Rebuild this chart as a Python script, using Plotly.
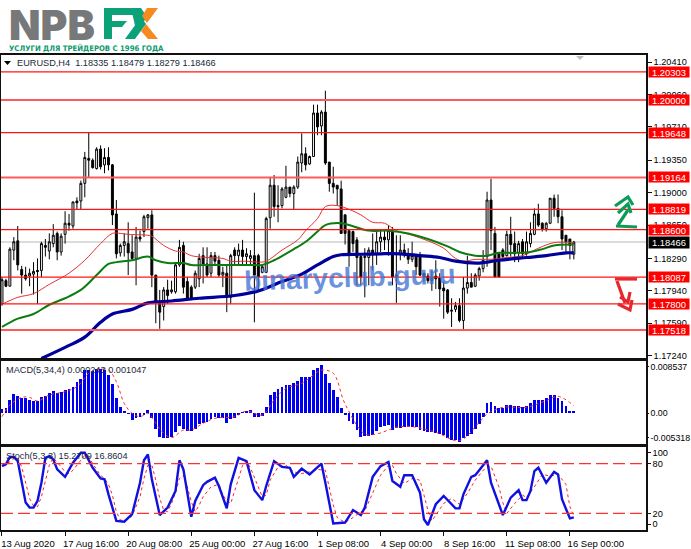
import plotly.graph_objects as go

W, H = 691, 549
def px(x): return x / W
def py(y): return 1 - y / H

# ---- prices, in units of 0.0001 ----
open_pips = [11780,11805,11799,11838,11848,11817,11811,11810,11812,11816,
 11816,11843,11837,11845,11856,11836,11855,11867,11864,11891,
 11891,11910,11937,11935,11926,11947,11930,11938,11930,11877,
 11835,11843,11845,11836,11829,11852,11858,11873,
 11876,11811,11782,11777,11795,11793,11793,11822,11843,11804,11798,11798,
 11807,11832,11823,11813,11832,11827,11811,11813,11787,11838,
 11832,11838,11831,11829,11832,11832,11814,11814,11873,11908,
 11886,11886,11895,11906,11899,11906,11932,11942,11931,11939,
 11986,11972,11987,11933,11910,11908,11904,11876,11859,11858,
 11849,11831,11830,11830,11838,11834,11847,11852,11849,11859,
 11811,11834,11838,11834,11828,11832,11831,11813,11810,11805,
 11810,11808,11797,11795,11772,11774,11778,11762,11797,11803,
 11799,11810,11818,11831,11892,11856,11834,11838,11832,11855,
 11845,11835,11847,11834,11845,11855,11877,11867,11861,11867,
 11894,11883,11874,11854,11850,11833.5]
high_pips = [11809,11807,11841,11852,11864,11821,11820,11818,11825,11829,
 11847,11850,11856,11866,11858,11856,11880,11877,11890,11895,
 11913,11944,11965,11937,11949,11951,11948,11949,11931,11892,
 11845,11856,11868,11854,11863,11859,11876,11877,
 11881,11811,11795,11798,11806,11805,11823,11849,11847,11809,11800,11816,
 11834,11841,11841,11836,11836,11832,11820,11823,11834,11841,
 11845,11849,11840,11838,11900,11834,11823,11874,11917,11919,
 11908,11906,11929,11906,11908,11939,11964,11949,11940,11995,
 11995,11989,12010,11933,11928,11908,11913,11877,11859,11859,
 11852,11834,11840,11841,11856,11858,11859,11859,11865,11863,
 11854,11854,11845,11840,11847,11834,11836,11813,11813,11816,
 11827,11813,11804,11796,11786,11782,11786,11809,11832,11813,
 11813,11820,11838,11901,11915,11863,11836,11840,11859,11874,
 11858,11848,11850,11858,11868,11883,11888,11868,11868,11894,
 11898,11898,11881,11854,11850,11847.9]
low_pips = [11778,11798,11799,11827,11816,11791,11805,11799,11790,11780,
 11809,11831,11828,11841,11827,11832,11845,11859,11861,11882,
 11882,11895,11916,11926,11925,11925,11921,11924,11865,11829,
 11831,11831,11811,11827,11800,11847,11852,11861,
 11798,11759,11753,11762,11780,11791,11791,11820,11791,11784,11784,11796,
 11798,11802,11809,11809,11822,11809,11798,11771,11780,11823,
 11823,11823,11822,11823,11760,11795,11813,11813,11861,11874,
 11868,11883,11894,11895,11882,11904,11922,11924,11930,11939,
 11962,11962,11930,11901,11899,11886,11856,11844,11820,11836,
 11800,11800,11787,11800,11816,11822,11836,11838,11832,11800,
 11781,11827,11830,11823,11825,11811,11810,11804,11802,11794,
 11796,11777,11764,11769,11755,11771,11760,11751,11791,11798,
 11798,11805,11814,11820,11838,11809,11809,11827,11831,11831,
 11825,11825,11829,11832,11841,11854,11863,11858,11858,11866,
 11874,11867,11838,11836,11828,11827.9]
close_pips = [11806,11799,11839,11847,11822,11811,11807,11813,11815,11815,
 11845,11841,11847,11854,11836,11853,11867,11865,11890,11889,
 11910,11938,11935,11927,11947,11928,11938,11930,11876,11834,
 11843,11847,11835,11829,11852,11850,11874,11876,
 11811,11782,11771,11795,11789,11795,11822,11841,11798,11786,11786,11813,
 11829,11823,11811,11832,11826,11811,11814,11787,11832,11832,
 11838,11831,11834,11832,11811,11809,11820,11872,11908,11885,
 11885,11904,11906,11899,11906,11933,11942,11930,11939,11986,
 11971,11987,11932,11910,11906,11904,11856,11856,11834,11845,
 11830,11809,11831,11838,11834,11847,11852,11849,11859,11809,
 11809,11838,11834,11828,11832,11820,11811,11809,11805,11808,
 11807,11796,11794,11771,11773,11778,11762,11797,11803,11798,
 11811,11818,11827,11892,11859,11809,11809,11831,11855,11844,
 11834,11845,11834,11847,11856,11877,11865,11861,11867,11894,
 11883,11874,11850,11847,11843,11846.6]

ma_red_i = [0,4,8,12,17,21,25,28,30,32,37,38,41,44,46,48,52,56,58,62,65,67,71,75,77,80,82,85,88,91,94,97,100,104,108,112,115,117,120,124,128,132,136,140,145]
ma_red = [11779.5,11787,11791,11801,11813,11827,11845,11856,11856,11855,11854,11853,11843,11837,11836,11832,11830,11829,11826,11826,11825,11826,11838,11849,11859,11872,11885,11886,11882,11876,11868,11867,11859,11854,11848,11840,11829,11826,11828,11828,11830,11832,11840,11846,11846]
ma_green_i = [0,4,8,12,16,20,24,27,29,33,37,39,42,46,48,53,58,63,66,69,74,77,80,82,86,88,93,98,103,108,113,116,120,123,126,130,134,137,140,145]
ma_green = [11755,11764,11769,11779,11786,11795,11811,11823,11825,11827,11831,11827,11824,11824,11822,11822,11822,11822,11822,11827,11839,11847,11858,11865,11867,11865,11859,11859,11856,11850,11842,11836,11832,11832,11835,11835,11836,11839,11843,11844]
ma_blue_i = [10,16,21,25,28,33,37,43,50,59,65,71,76,80,84,86,91,96,101,106,111,115,121,126,133,138,143,145]
ma_blue = [11721,11733,11744,11760,11769,11774,11781,11783,11786,11789,11794,11804,11812,11822,11831,11833,11833.5,11834,11834,11832,11830,11826,11824,11827,11830,11832,11835,11835]

level_prices = [1.20303,1.20000,1.19648,1.19164,1.18819,1.18600,1.18087,1.17800,1.17518]
level_thick = [False,True,False,True,False,False,False,False,True]
last_price = 1.18466

# ---- MACD histogram and signal, in units of 0.00001 ----
macd_hist = [61,89,217,311,289,245,245,211,206,206,272,289,334,367,339,356,384,395,439,512,567,717,717,701,734,734,723,634,478,245,106,22,-11,-117,-89,-61,-17,50,-89,-267,-400,-411,-411,-395,-311,-217,-267,-300,-300,-267,-189,-172,-145,-100,-61,-89,-89,-172,-100,-78,-22,11,22,44,-61,-61,-50,106,300,356,395,428,467,467,495,534,595,595,606,717,745,801,645,495,384,272,89,-17,
 -128,-183,-278,-395,-389,-378,-367,-295,-239,-211,-200,-278,-256,-250,-239,-228,-228,-239,-278,-306,-311,-322,-334,-350,-367,-423,-445,-445,-478,-411,-378,-350,-267,-183,-72,161,189,111,83,83,133,139,111,122,95,122,161,222,217,217,245,300,306,250,206,122,39,24]
macd_sig_i = [0,2,5,7,9,12,16,19,22,24,27,29,31,33,35,37,39,41,43,46,48,51,54,59,62,66,69,72,76,79,81,84,87,92,95,100,104,110,116,121,123,127,133,138,141,145]
macd_sig = [-61,133,261,261,200,300,356,439,662,728,717,523,161,-6,-61,-6,-172,-339,-411,-284,-284,-172,-89,-61,33,-33,217,411,495,634,717,662,150,-350,-350,-239,-228,-322,-461,-156,-17,95,95,206,278,122]

# ---- Stochastic ----
stoch_i = [0,1,2,3,4,5,6,7,8,9,10,11,12,13,14,16,18,20,21,23,25,26,27,29,31,33,35,36,37,38,40,42,44,45,46,48,49,51,52,54,55,57,58,60,62,64,66,67,69,71,73,74,76,78,81,82,84,87,89,91,92,94,96,98,99,101,102,104,106,107,108,110,112,115,116,117,119,120,123,124,127,129,131,132,133,134,135,136,138,140,141,142,144,145]
stoch_main = [77,79,88,88,83,57,33,27,27,35,57,87,89,85,73,64,81,93,93,75,62,61,43,11,10,19,57,84,91,61,18,27,47,84,73,16,35,54,58,63,53,26,55,87,83,48,36,53,83,76,75,64,74,67,80,57,8,9,24,18,27,64,77,82,59,52,66,66,45,13,6,31,41,26,26,43,64,66,84,57,18,39,48,36,36,47,71,75,57,70,67,37,14,15.27]
stoch_sig_i = [0,2,3,4,5,6,7,8,9,10,11,12,13,14,15,16,17,18,20,21,22,23,25,26,27,28,29,30,31,32,33,35,36,37,38,39,40,41,42,43,44,45,46,47,48,49,50,51,53,55,56,57,58,59,60,61,62,63,65,66,67,68,70,72,74,76,78,80,82,83,84,85,87,89,91,92,94,96,98,99,100,102,104,106,107,108,109,110,112,114,116,118,120,122,124,126,127,128,130,132,133,135,137,139,141,143,144,145]
stoch_sig = [78,82,86,87,76,58,38,29,28,40,60,78,87,82,76,70,68,72,85,90,88,80,66,62,55,42,22,12,11,13,17,40,62,78,78,60,38,24,22,32,45,62,66,52,34,22,30,40,52,55,42,36,32,46,62,78,83,75,52,40,42,60,76,78,70,68,70,73,72,50,30,15,9,15,22,23,45,66,78,78,68,56,62,60,42,24,11,18,32,38,31,44,60,72,77,52,33,20,32,42,39,52,67,65,67,55,28,16.86]
stoch_levels = [80, 20]

x_tick_i = [0,16,32,48,64,80,96,112,128,144]
x_tick_text = ["13 Aug 2020","17 Aug 16:00","20 Aug 08:00","25 Aug 00:00","27 Aug 16:00",
               "1 Sep 08:00","4 Sep 00:00","8 Sep 16:00","11 Sep 08:00","16 Sep 00:00"]
price_ticks = [1.20410,1.20060,1.19710,1.19350,1.19000,1.18650,1.18290,1.17940,1.17590,1.17240]
xi = list(range(len(close_pips)))
x_range = [-0.25, 163.3]

FONT = "Liberation Sans"
fig = go.Figure()

fig.add_trace(go.Candlestick(
    x=xi, open=[v/1e4 for v in open_pips], high=[v/1e4 for v in high_pips],
    low=[v/1e4 for v in low_pips], close=[v/1e4 for v in close_pips],
    increasing=dict(line=dict(color="#000000", width=1), fillcolor="#ffffff"),
    decreasing=dict(line=dict(color="#000000", width=1), fillcolor="#000000"),
    xaxis="x", yaxis="y", showlegend=False))
fig.add_trace(go.Scatter(x=ma_red_i, y=[v/1e4 for v in ma_red], mode="lines",
    line=dict(color="#e83030", width=1, shape="spline"), xaxis="x", yaxis="y", showlegend=False))
fig.add_trace(go.Scatter(x=ma_green_i, y=[v/1e4 for v in ma_green], mode="lines",
    line=dict(color="#0c7c10", width=2, shape="spline"), xaxis="x", yaxis="y", showlegend=False))
fig.add_trace(go.Scatter(x=ma_blue_i, y=[v/1e4 for v in ma_blue], mode="lines",
    line=dict(color="#00009a", width=3.2, shape="spline"), xaxis="x", yaxis="y", showlegend=False))

fig.add_trace(go.Bar(x=xi, y=[v/1e5 for v in macd_hist], width=0.72,
    marker=dict(color="#0000f0", line_width=0), xaxis="x2", yaxis="y2", showlegend=False))
fig.add_trace(go.Scatter(x=macd_sig_i, y=[v/1e5 for v in macd_sig], mode="lines",
    line=dict(color="#ff2a2a", width=1, dash="dot", shape="spline"), xaxis="x2", yaxis="y2", showlegend=False))

fig.add_trace(go.Scatter(x=stoch_sig_i, y=stoch_sig, mode="lines",
    line=dict(color="#ff2020", width=1, dash="dot"), xaxis="x3", yaxis="y3", showlegend=False))
fig.add_trace(go.Scatter(x=stoch_i, y=stoch_main, mode="lines",
    line=dict(color="#1010e0", width=2.4), xaxis="x3", yaxis="y3", showlegend=False))

shapes, annos = [], []

# last price line (behind the candles), levels
shapes.append(dict(type="line", xref="x domain", yref="y", x0=0, x1=1, y0=last_price, y1=last_price,
                   line=dict(color="#cfcfcf", width=1.5), layer="below"))
for p, thick in zip(level_prices, level_thick):
    shapes.append(dict(type="line", xref="x domain", yref="y", x0=0, x1=1, y0=p, y1=p,
                       line=dict(color="#ff5a5a" if thick else "#ff1414", width=2 if thick else 1.2)))
    annos.append(dict(xref="paper", yref="y", x=px(648), y=p, xanchor="left", yanchor="middle",
                      text=f"{p:.5f}", showarrow=False, width=40, height=10, bgcolor="#ff0000",
                      align="center", valign="middle", borderpad=0,
                      font=dict(family=FONT, size=9.4, color="#ffffff")))
annos.append(dict(xref="paper", yref="y", x=px(648), y=last_price, xanchor="left", yanchor="middle",
                  text=f"{last_price:.5f}", showarrow=False, width=40, height=11, bgcolor="#000000",
                  align="center", valign="middle", borderpad=0,
                  font=dict(family=FONT, size=9.4, color="#ffffff")))
for lv in stoch_levels:
    shapes.append(dict(type="line", xref="x3 domain", yref="y3", x0=0, x1=1, y0=lv, y1=lv,
                       line=dict(color="#ff3030", width=1.4, dash="12px,5px")))

def txt(x, y, s, size, color="#000000", family=FONT, **kw):
    annos.append(dict(xref="paper", yref="paper", x=px(x), y=py(y), xanchor="left", yanchor="middle",
                      text=s, showarrow=False, borderpad=0, font=dict(family=family, size=size, color=color), **kw))

txt(16, 63.5, "EURUSD,H4&nbsp;&nbsp;1.18335 1.18479 1.18279 1.18466", 9.2, "#1a2a3a")
txt(5, 370, "MACD(5,34,4) 0.000243 0.001047", 9.2, "#1a2a3a")
txt(5, 456, "Stoch(5,3,3) 15.2709 16.8604", 9.2, "#1a2a3a")

annos.append(dict(xref="paper", yref="paper", x=px(350), y=py(277), text="binaryclub.guru", showarrow=False,
                  textangle=-2, xanchor="center", yanchor="middle",
                  font=dict(family="Liberation Sans", size=28, color="rgba(68,116,214,0.78)", weight="bold")))

# logo
annos.append(dict(xref="paper", yref="paper", x=px(7), y=py(25), xanchor="left", yanchor="middle",
                  text="NPB", showarrow=False,
                  font=dict(family="Inter", size=41, color="#76787a", weight=900)))
txt(8, 48, "УСЛУГИ ДЛЯ ТРЕЙДЕРОВ С 1996 ГОДА", 7.7, "#0b9a6c", family="DejaVu Sans Condensed, Liberation Sans")
annos[-1]["font"]["weight"] = "bold"

def poly(points, color):
    d = "M " + " L ".join(f"{px(a):.5f},{py(b):.5f}" for a, b in points) + " Z"
    shapes.append(dict(type="path", xref="paper", yref="paper", path=d, fillcolor=color, line_width=0))
def stroke(points, color, w=3.2):
    d = "M " + " L ".join(f"{px(a):.5f},{py(b):.5f}" for a, b in points)
    shapes.append(dict(type="path", xref="paper", yref="paper", path=d, line=dict(color=color, width=w)))

G, O = "#0ba27a", "#f58a1f"
poly([(104,8),(112,8),(112,39),(104,39)], G)
poly([(104,8),(131,8),(136,15),(104,15)], G)
poly([(104,21),(127,21),(122,27),(104,27)], G)
poly([(131,8),(141,8),(147,17),(142,24),(136,30)], G)
poly([(125,39),(135,39),(146,24),(141,17)], G)
poly([(147,8),(158,8),(147,23),(142,16)], O)
poly([(146,24),(158,39),(148,39),(141,31)], O)

# hand-drawn trade arrows
stroke([(616,226),(637,227)], "#0d9c58")
stroke([(628,210),(618,225)], "#0d9c58")
stroke([(618,213),(628,204),(631,213)], "#0d9c58")
stroke([(615,206),(628,197),(633,205)], "#0d9c58")
stroke([(615,279),(637,279)], "#e6272d")
stroke([(617,281),(625,303)], "#e6272d")
stroke([(620,297),(628,302),(630,292)], "#e6272d")
stroke([(618,304),(630,310),(632,300)], "#e6272d")
# chart markers
poly([(4,61),(11,61),(7.5,65)], "#000000")
poly([(576,56),(584,56),(580,60)], "#bdbdbd")

axis_common = dict(showgrid=False, zeroline=False, showline=True, mirror=True,
                   linecolor="#111111", linewidth=1.5)
tickfont = dict(family=FONT, size=9.2, color="#000000")
dom_x = [px(1), px(646)]

fig.update_layout(
    width=W, height=H, margin=dict(l=0, r=0, t=0, b=0, autoexpand=False), autosize=False,
    paper_bgcolor="#ffffff", plot_bgcolor="#ffffff", showlegend=False, bargap=0,
    shapes=shapes, annotations=annos, hovermode=False,
    xaxis=dict(domain=dom_x, range=x_range, anchor="y", rangeslider=dict(visible=False),
               showticklabels=False, ticks="", **axis_common),
    xaxis2=dict(domain=dom_x, range=x_range, anchor="y2", showticklabels=False, ticks="", **axis_common),
    xaxis3=dict(domain=dom_x, range=x_range, anchor="y3", tickmode="array", tickvals=x_tick_i,
                ticktext=x_tick_text, ticks="outside", ticklen=4, tickcolor="#111111",
                tickfont=dict(family=FONT, size=9.5, color="#000000"), ticklabelshift=26, **axis_common),
    yaxis=dict(domain=[py(358), py(55)], range=[1.17215, 1.20486], anchor="x", side="right",
               tickmode="array", tickvals=price_ticks, ticktext=[f"{v:.5f}" for v in price_ticks],
               ticks="outside", ticklen=4, tickcolor="#111111", tickfont=tickfont, **axis_common),
    yaxis2=dict(domain=[py(444), py(361)], range=[-0.005175, 0.00868], anchor="x2", side="right",
                tickmode="array", tickvals=[0.00768, 0, -0.00417], ticktext=["0.008537", "0.00", "-0.005318"],
                ticks="outside", ticklen=1, tickcolor="#111111",
                tickfont=dict(family=FONT, size=8.8, color="#000000"), **axis_common),
    yaxis3=dict(domain=[py(530), py(447)], range=[0, 100], anchor="x3", side="right",
                tickmode="array", tickvals=[92.8, 80, 20, 7.2], ticktext=["100", "80", "20", "0"],
                ticks="outside", ticklen=3, tickcolor="#111111", tickfont=tickfont, **axis_common),
)
fig.write_html("out.html", config=dict(displayModeBar=False),
               post_script="document.body.style.margin='0';")
